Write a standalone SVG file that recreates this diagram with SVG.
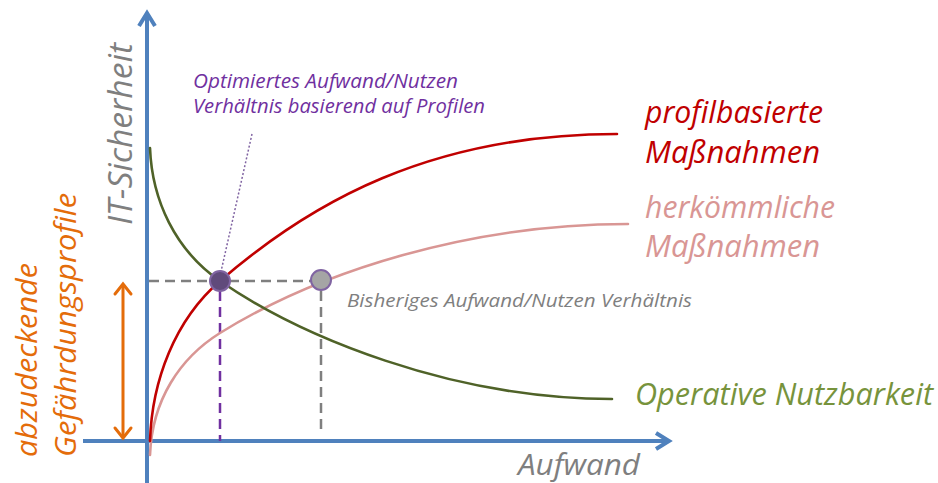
<svg xmlns="http://www.w3.org/2000/svg" width="938" height="483" viewBox="0 0 938 483">
  <defs>
    <style>
      .lbl { font-family: "Open Sans", "Noto Sans", "Liberation Sans", sans-serif; font-style: italic; }
      .axis { stroke: #4f81bd; stroke-width: 4; fill: none; }
      .curve { fill: none; stroke-width: 2.6; stroke-linecap: round; }
      .dash { fill: none; stroke-width: 2.5; stroke-dasharray: 10 6; }
    </style>
  </defs>
  <rect width="938" height="483" fill="#ffffff"/>

  <!-- axes -->
  <g id="axes">
    <line class="axis" x1="147" y1="483" x2="147" y2="14"/>
    <polyline class="axis" points="139,26 147,13 155,26"/>
    <line class="axis" x1="83" y1="441" x2="668" y2="441"/>
    <polyline class="axis" points="656,433 669,441 656,449"/>
  </g>

  <!-- reference lines -->
  <g id="guides">
    <line class="dash" x1="149" y1="281" x2="312" y2="281" stroke="#7f7f7f"/>
    <line class="dash" x1="220" y1="291" x2="220" y2="441" stroke="#7030a0"/>
    <line class="dash" x1="321" y1="291" x2="321" y2="434" stroke="#7f7f7f"/>
    <line x1="252" y1="134" x2="220" y2="276" stroke="#8064a2" stroke-width="1.5" stroke-dasharray="2 2"/>
  </g>

  <!-- curves -->
  <g id="curves">
    <path class="curve" stroke="#d99694" d="M150,455 C152,400 180,358 220,333 C320,271 470,224 628,224"/>
    <path class="curve" stroke="#4f6228" d="M150,148 C152,200 175,250 220,281 C300,336 450,399 612,399"/>
    <path class="curve" stroke="#c00000" d="M150,441 C152,380 175,320 220,281 C310,203 430,134 617,134"/>
  </g>

  <!-- orange range arrow -->
  <g id="range-arrow" stroke="#e46c0a" stroke-width="3" fill="none" stroke-linecap="round">
    <line x1="123" y1="285" x2="123" y2="437"/>
    <polyline points="115,294 123,284 131,294"/>
    <polyline points="115,428 123,438 131,428"/>
  </g>

  <!-- points -->
  <g id="point-optimized">
    <circle cx="220" cy="281" r="10" fill="#604a7b" stroke="#8064a2" stroke-width="2"/>
  </g>
  <g id="point-previous">
    <circle cx="321" cy="280" r="10" fill="#a5a5a5" stroke="#8064a2" stroke-width="2"/>
  </g>

  <!-- labels -->
  <g id="label-y">
    <text class="lbl" transform="translate(132,134) rotate(-90)" text-anchor="middle" font-size="32" fill="#7f7f7f" textLength="182" lengthAdjust="spacingAndGlyphs">IT-Sicherheit</text>
  </g>
  <g id="label-x">
    <text class="lbl" x="518" y="475" font-size="30" fill="#7f7f7f" textLength="122" lengthAdjust="spacingAndGlyphs">Aufwand</text>
  </g>
  <g id="label-profiles" fill="#e46c0a" font-size="30">
    <text class="lbl" transform="translate(37,457) rotate(-90)" textLength="194" lengthAdjust="spacingAndGlyphs">abzudeckende</text>
    <text class="lbl" transform="translate(76,457) rotate(-90)" textLength="264" lengthAdjust="spacingAndGlyphs">Gefährdungsprofile</text>
  </g>
  <g id="label-optimized" fill="#7030a0" font-size="20">
    <text class="lbl" x="193" y="88" textLength="265" lengthAdjust="spacingAndGlyphs">Optimiertes Aufwand/Nutzen</text>
    <text class="lbl" x="193" y="113" textLength="292" lengthAdjust="spacingAndGlyphs">Verhältnis basierend auf Profilen</text>
  </g>
  <g id="label-previous">
    <text class="lbl" x="347" y="307" font-size="19" fill="#7f7f7f" textLength="345" lengthAdjust="spacingAndGlyphs">Bisheriges Aufwand/Nutzen Verhältnis</text>
  </g>
  <g id="label-profile-based" fill="#c00000" font-size="31">
    <text class="lbl" x="645" y="123" textLength="178" lengthAdjust="spacingAndGlyphs">profilbasierte</text>
    <text class="lbl" x="645" y="163" textLength="175" lengthAdjust="spacingAndGlyphs">Maßnahmen</text>
  </g>
  <g id="label-conventional" fill="#d99694" font-size="31">
    <text class="lbl" x="645" y="218" textLength="190" lengthAdjust="spacingAndGlyphs">herkömmliche</text>
    <text class="lbl" x="645" y="257" textLength="175" lengthAdjust="spacingAndGlyphs">Maßnahmen</text>
  </g>
  <g id="label-usability">
    <text class="lbl" x="635" y="405" font-size="31" fill="#77933c" textLength="298" lengthAdjust="spacingAndGlyphs">Operative Nutzbarkeit</text>
  </g>
</svg>
